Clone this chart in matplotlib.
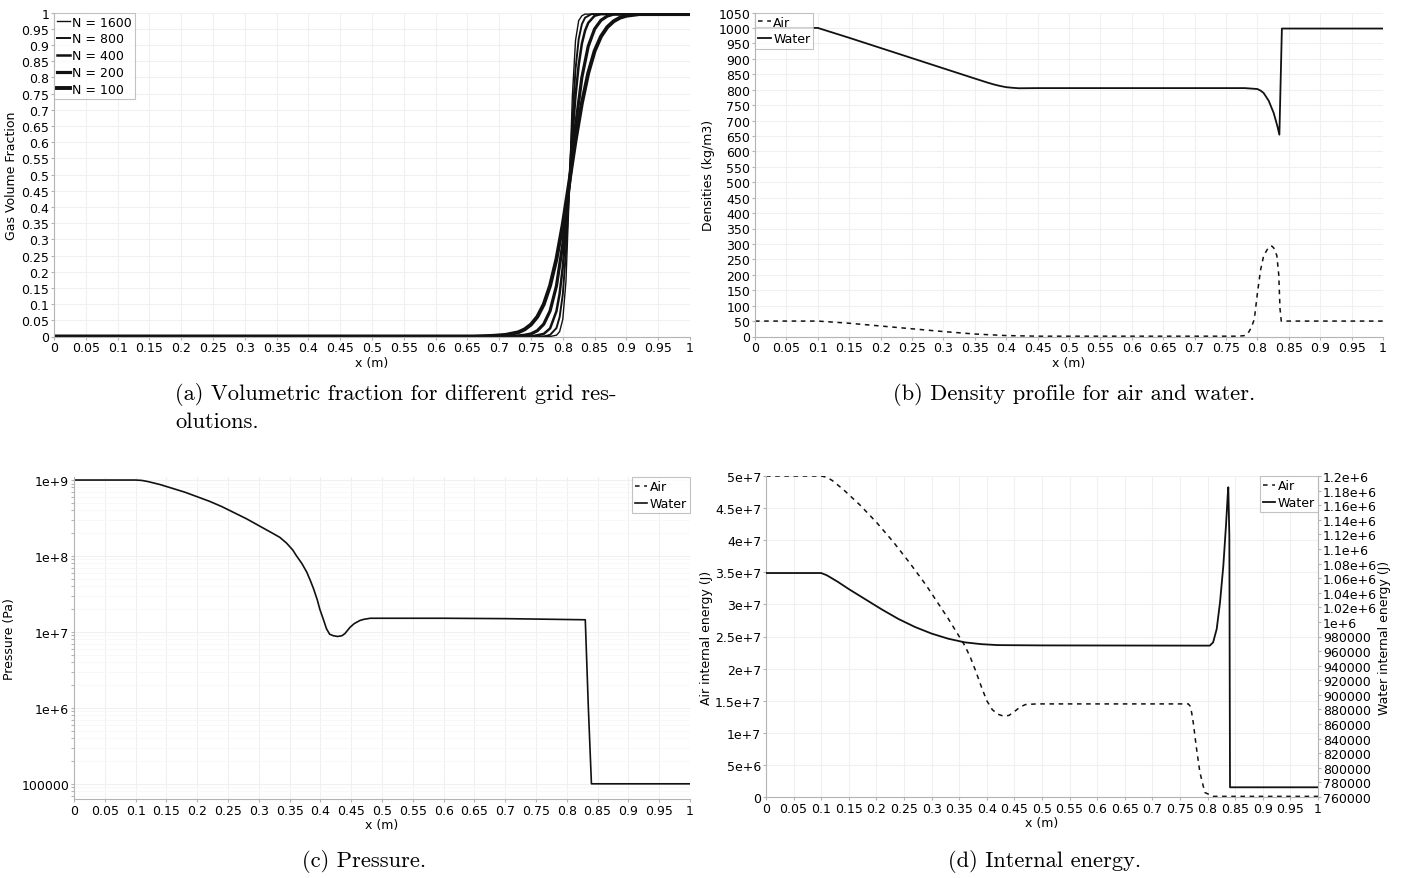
import numpy as np
import matplotlib
matplotlib.use("Agg")
import matplotlib.pyplot as plt
from matplotlib.ticker import MultipleLocator, FuncFormatter, LogLocator, NullFormatter

# ---- (a) gas volume fraction for different grids ----
n_labels = ["N = 1600", "N = 800", "N = 400", "N = 200", "N = 100"]
n_widths = [1.0, 1.4, 1.8, 2.3, 2.8]

alpha_x_1600 = [0, 0.78, 0.79, 0.795, 0.80, 0.805, 0.81, 0.815, 0.82, 0.825, 0.83, 0.835, 1]
alpha_y_1600 = [0, 0, 0.004, 0.015, 0.053, 0.171, 0.435, 0.741, 0.914, 0.975, 0.99, 0.995, 0.995]
alpha_x_800 = [0, 0.77, 0.78, 0.79, 0.795, 0.80, 0.805, 0.81, 0.815, 0.82, 0.825, 0.83, 0.835,
               0.845, 1]
alpha_y_800 = [0, 0, 0.005, 0.026, 0.06, 0.13, 0.263, 0.457, 0.666, 0.825, 0.918, 0.964, 0.984,
               0.995, 0.995]
alpha_x_400 = [0, 0.75, 0.77, 0.78, 0.79, 0.795, 0.80, 0.805, 0.81, 0.815, 0.82, 0.825, 0.83,
               0.835, 0.84, 0.85, 0.86, 1]
alpha_y_400 = [0, 0, 0.008, 0.025, 0.078, 0.132, 0.215, 0.33, 0.47, 0.616, 0.742, 0.838, 0.904,
               0.944, 0.968, 0.99, 0.995, 0.995]
alpha_x_200 = [0, 0.72, 0.74, 0.75, 0.76, 0.77, 0.78, 0.79, 0.80, 0.81, 0.82, 0.83, 0.84, 0.85,
               0.86, 0.87, 0.88, 1]
alpha_y_200 = [0, 0, 0.004, 0.008, 0.018, 0.038, 0.079, 0.156, 0.285, 0.462, 0.649, 0.80, 0.896,
               0.949, 0.976, 0.989, 0.995, 0.995]
alpha_x_100 = [0, 0.66, 0.69, 0.71, 0.73, 0.74, 0.75, 0.76, 0.77, 0.78, 0.79, 0.80, 0.81, 0.82,
               0.83, 0.84, 0.85, 0.86, 0.87, 0.88, 0.89, 0.90, 0.92, 1]
alpha_y_100 = [0, 0, 0.002, 0.005, 0.013, 0.022, 0.037, 0.061, 0.099, 0.157, 0.239, 0.347, 0.474,
               0.604, 0.72, 0.813, 0.881, 0.926, 0.955, 0.973, 0.984, 0.99, 0.995, 0.995]

# ---- (b) densities ----
rho_x_water = [0, 0.10, 0.15, 0.20, 0.25, 0.30, 0.35, 0.37, 0.38, 0.39, 0.40, 0.41, 0.42, 0.45,
               0.60, 0.78, 0.80, 0.805, 0.81, 0.818, 0.826, 0.832, 0.835, 0.839, 0.85, 1]
rho_y_water = [1000, 1000, 968, 935, 902, 869, 836, 823, 817, 812, 808, 806, 804.5, 805,
               805, 805, 802, 797, 789, 764, 724, 680, 654, 998, 998, 998]
rho_x_air = [0, 0.10, 0.15, 0.20, 0.25, 0.30, 0.35, 0.40, 0.45, 0.60, 0.77, 0.78, 0.785, 0.79,
             0.795, 0.80, 0.805, 0.81, 0.818, 0.823, 0.826, 0.831, 0.834, 0.836, 0.838, 0.85, 1]
rho_y_air = [50, 50, 43, 34, 25, 16, 8, 3, 1, 1, 1, 3, 10, 28,
             55, 140, 215, 262, 290, 293, 287, 262, 200, 90, 50, 50, 50]

# ---- (c) pressure (log10 of Pa) ----
p_x = [0, 0.10, 0.11, 0.12, 0.14, 0.16, 0.18, 0.20, 0.22, 0.24, 0.26, 0.28, 0.30, 0.32, 0.334,
       0.345, 0.355, 0.361, 0.37, 0.378, 0.384, 0.389, 0.395, 0.399, 0.405, 0.410, 0.415, 0.421,
       0.428, 0.435, 0.44, 0.448, 0.455, 0.464, 0.47, 0.481, 0.60, 0.70, 0.83, 0.835, 0.840,
       0.85, 1]
p_log = [9.0, 9.0, 8.995, 8.98, 8.94, 8.89, 8.84, 8.78, 8.72, 8.65, 8.57, 8.49, 8.40, 8.31, 8.246,
         8.17, 8.08, 8.004, 7.90, 7.785, 7.67, 7.566, 7.42, 7.30, 7.16, 7.04, 6.97, 6.95,
         6.94, 6.95, 6.98, 7.06, 7.11, 7.15, 7.165, 7.18, 7.18, 7.175, 7.16, 6.0, 5.0,
         5.0, 5.0]

# ---- (d) internal energy ----
e_x_air = [0, 0.10, 0.11, 0.12, 0.14, 0.17, 0.20, 0.23, 0.26, 0.29, 0.31, 0.33, 0.35, 0.36, 0.37,
           0.38, 0.39, 0.40, 0.41, 0.42, 0.43, 0.44, 0.45, 0.46, 0.47, 0.49, 0.60, 0.765, 0.768,
           0.771, 0.774, 0.780, 0.786, 0.795, 0.81, 1]
e_y_air = [5.0e7, 5.0e7, 4.98e7, 4.93e7, 4.79e7, 4.55e7, 4.28e7, 3.98e7, 3.65e7, 3.3e7, 3.04e7,
           2.78e7, 2.5e7, 2.36e7, 2.18e7, 1.96e7, 1.72e7, 1.5e7, 1.36e7, 1.29e7, 1.26e7, 1.27e7,
           1.33e7, 1.40e7, 1.44e7, 1.45e7, 1.45e7, 1.45e7, 1.42e7, 1.32e7, 1.16e7, 7.5e6, 3.85e6,
           7e5, 1e5, 1e5]
e_x_water = [0, 0.10, 0.11, 0.13, 0.15, 0.18, 0.21, 0.24, 0.27, 0.30, 0.33, 0.36, 0.39, 0.42,
             0.50, 0.78, 0.804, 0.810, 0.8165, 0.8225, 0.8285, 0.8333, 0.8364, 0.8375, 0.8394,
             0.8406, 0.85, 1]
e_y_water = [1.067e6, 1.067e6, 1.064e6, 1.055e6, 1.045e6, 1.031e6, 1.017e6, 1.004e6, 993000,
             984000, 977000, 972000, 969500, 968200, 967800, 967500, 967500, 972000, 990300,
             1.0269e6, 1.077e6, 1.132e6, 1.173e6, 1.1845e6, 1.118e6, 773300, 773300, 773300]

line_c = "#111111"
spine_c = "#b4b4b4"
grid_c = "#f0f0f0"
tick_fs = 9


def style_axes(ax):
    for s in ["top", "right"]:
        ax.spines[s].set_visible(False)
    for s in ["left", "bottom"]:
        ax.spines[s].set_color(spine_c)
    ax.tick_params(axis="both", which="both", labelsize=tick_fs, length=2.5, width=0.8,
                   color=spine_c, pad=1)
    ax.xaxis.set_major_locator(MultipleLocator(0.05))
    ax.xaxis.set_major_formatter(FuncFormatter(lambda v, p: f"{round(v, 2):g}"))
    ax.set_xlim(0, 1)
    ax.grid(True, color=grid_c, linewidth=0.8)
    ax.set_axisbelow(True)
    ax.set_xlabel("x (m)", fontsize=9, labelpad=1)


def legend(ax, loc, handles=None, labels=None):
    kw = dict(loc=loc, fontsize=9, frameon=True, fancybox=False, borderaxespad=0,
              handlelength=1.0, handletextpad=0.2, labelspacing=0.3, borderpad=0.25)
    if handles is None:
        lg = ax.legend(**kw)
    else:
        lg = ax.legend(handles, labels, **kw)
    lg.get_frame().set_edgecolor(spine_c)
    lg.get_frame().set_linewidth(0.8)
    return lg


fig = plt.figure(figsize=(14.13, 8.79), dpi=100)
W, H = 1413, 879


def axes_px(x0, x1, y0, y1):
    return fig.add_axes([x0 / W, 1 - y1 / H, (x1 - x0) / W, (y1 - y0) / H])


# (a)
ax = axes_px(54, 690, 13.5, 337.5)
style_axes(ax)
series_a = [(alpha_x_1600, alpha_y_1600), (alpha_x_800, alpha_y_800), (alpha_x_400, alpha_y_400),
            (alpha_x_200, alpha_y_200), (alpha_x_100, alpha_y_100)]
for (xs, ys), lab, lw in zip(series_a, n_labels, n_widths):
    ax.plot(xs, ys, color=line_c, lw=lw, label=lab)
ax.set_ylim(0, 1)
ax.yaxis.set_major_locator(MultipleLocator(0.05))
ax.yaxis.set_major_formatter(FuncFormatter(lambda v, p: f"{round(v, 2):g}"))
ax.set_ylabel("Gas Volume Fraction", fontsize=9, labelpad=2)
legend(ax, "upper left")

# (b)
ax = axes_px(755, 1383, 13.5, 337.5)
style_axes(ax)
ax.plot(rho_x_air, rho_y_air, color=line_c, lw=1.1, ls=(0, (3, 3)), label="Air")
ax.plot(rho_x_water, rho_y_water, color=line_c, lw=1.3, label="Water")
ax.set_ylim(0, 1050)
ax.yaxis.set_major_locator(MultipleLocator(50))
ax.set_ylabel("Densities (kg/m3)", fontsize=9, labelpad=2)
legend(ax, "upper left")

# (c)
ax = axes_px(74, 690, 478, 800)
style_axes(ax)
ax.plot(p_x, [10 ** v for v in p_log], color=line_c, lw=1.2, label="Water")
ax.plot([], [], color=line_c, lw=1.1, ls=(0, (3, 3)), label="Air")
ax.set_yscale("log")
ax.set_ylim(10 ** 4.8, 10 ** 9.04)
ax.yaxis.set_major_locator(LogLocator(base=10, numticks=10))
ax.yaxis.set_minor_locator(LogLocator(base=10, subs=np.arange(2, 10), numticks=20))
ax.yaxis.set_minor_formatter(NullFormatter())
ax.yaxis.set_major_formatter(FuncFormatter(
    lambda v, p: "100000" if v < 5e5 else f"1e+{int(round(np.log10(v)))}"))
ax.grid(True, which="minor", axis="y", color="#f7f7f7", linewidth=0.6)
ax.set_ylabel("Pressure (Pa)", fontsize=9, labelpad=4)
h, l = ax.get_legend_handles_labels()
legend(ax, "upper right", h[::-1], l[::-1])

# (d)
ax = axes_px(766, 1318, 477, 798)
style_axes(ax)
ax.plot(e_x_air, e_y_air, color=line_c, lw=1.1, ls=(0, (3, 3)), label="Air")
ax.set_ylim(0, 5e7)
ax.yaxis.set_major_locator(MultipleLocator(5e6))
ax.yaxis.set_major_formatter(FuncFormatter(
    lambda v, p: "0" if v == 0 else f"{v / 1e7:g}e+7" if v >= 1e7 else f"{v / 1e6:g}e+6"))
ax.set_ylabel("Air internal energy (J)", fontsize=9, labelpad=1)
ax2 = ax.twinx()
ax2.plot(e_x_water, e_y_water, color=line_c, lw=1.3, label="Water")
ax2.set_ylim(760000, 1.2e6)
ax2.yaxis.set_major_locator(MultipleLocator(20000))
ax2.yaxis.set_major_formatter(FuncFormatter(
    lambda v, p: f"{round(v / 1e6, 2):g}e+6" if v >= 999999 else f"{int(round(v))}"))
for s in ["top", "left", "bottom"]:
    ax2.spines[s].set_visible(False)
ax2.spines["right"].set_color(spine_c)
ax2.tick_params(axis="y", labelsize=tick_fs, length=2.5, width=0.8, color=spine_c, pad=1)
ax2.set_ylabel("Water internal energy (J)", fontsize=9, labelpad=1, rotation=90)
h1, l1 = ax.get_legend_handles_labels()
h2, l2 = ax2.get_legend_handles_labels()
legend(ax2, "upper right", h1 + h2, l1 + l2)

# captions
cap = dict(fontfamily="cmr10", fontsize=16.2, va="center")
fig.text(175 / W, 1 - 395 / H, "(a) Volumetric fraction for different grid res-", ha="left", **cap)
fig.text(175 / W, 1 - 422 / H, "olutions.", ha="left", **cap)
fig.text(893 / W, 1 - 395 / H, "(b) Density profile for air and water.", ha="left", **cap)
fig.text(364 / W, 1 - 862 / H, "(c) Pressure.", ha="center", **cap)
fig.text(1045 / W, 1 - 862 / H, "(d) Internal energy.", ha="center", **cap)

fig.savefig("out.png", dpi=100)
